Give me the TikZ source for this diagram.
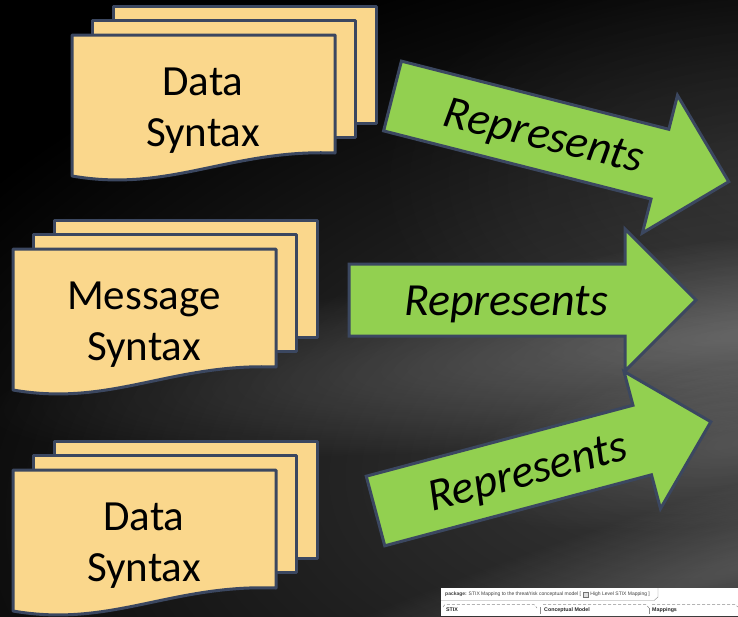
\documentclass[tikz,border=0pt]{standalone}
\usepackage{fontspec}
\setmainfont{Carlito}
\newfontfamily\uifont{Liberation Sans}
\definecolor{edge}{RGB}{59,71,96}
\definecolor{paper}{RGB}{250,215,140}
\definecolor{leaf}{RGB}{146,208,80}
\tikzset{
  docpage/.style={draw=edge, fill=paper, line width=3pt, line join=round},
  doctext/.style={align=center, font=\fontsize{43}{51}\selectfont, text=black, inner sep=0pt},
  arrowbody/.style={draw=edge, fill=leaf, line width=3pt, line join=miter},
  arrowtext/.style={font=\itshape\fontsize{46}{50}\selectfont, text=black, anchor=base, inner sep=0pt},
  uitext/.style={font=\uifont\fontsize{5}{6}\selectfont, text=black!75, inner sep=0pt, anchor=west},
  uilabel/.style={font=\uifont\bfseries\fontsize{5.3}{6}\selectfont, text=black!85, inner sep=0pt, anchor=west},
  pkgline/.style={draw=black!45, line width=0.5pt, dash pattern=on 3pt off 2pt},
}
% stack of three pages, the front one with a wavy lower edge
\newcommand{\docstack}[4]{%
  \begin{scope}[shift={(#2,#3)}]
    \draw[docpage] (41,-29) rectangle ++(263,117);
    \draw[docpage] (20.5,-14.5) rectangle ++(263,117);
    \draw[docpage] (0,0) -- (263,0) -- (263,118)
      .. controls (158,114) and (98,158) .. (0,141) -- cycle;
    \node[doctext] (#1) at (131,76) {#4};
  \end{scope}}
% block arrow, tail centre at (#2,#3), turned by #4 degrees
\newcommand{\bigarrow}[5]{%
  \begin{scope}[shift={(#2,#3)}, rotate=#4]
    \draw[arrowbody] (0,-36) -- (276,-36) -- (276,-71) -- (347,0)
      -- (276,71) -- (276,36) -- (0,36) -- cycle;
    \node[arrowtext, rotate=#5] (#1) at (157,15) {Represents};
  \end{scope}}
% soft light patch: radial shading screened onto the dark backdrop
% (centre x, centre y, reach x, reach y, angle, peak brightness in percent)
\newcommand{\glow}[6]{%
  \begin{scope}[transform canvas={shift={(#1,#2)}, rotate=#5}, blend mode=screen]
    \shade[inner color=white!#6!black, outer color=black]
      (0,0) ellipse ({2*#3} and {2*#4});
  \end{scope}}

\begin{document}
\begin{tikzpicture}[x=1pt, y=-1pt]
  % backdrop
  \fill[black] (0,0) rectangle (738,616);
  \useasboundingbox (0,0) rectangle (738,616);
  \begin{scope}
    \clip (0,0) rectangle (738,616);
    \glow{720}{430}{480}{260}{10}{23}
    \glow{780}{180}{200}{110}{0}{8}
    \glow{780}{330}{400}{48}{6}{24}
    \glow{760}{440}{160}{40}{8}{14}
    \glow{760}{560}{320}{40}{17}{18}
  \end{scope}

  % document stacks
  \docstack{dataA}{72}{35}{Data\\Syntax}
  \docstack{message}{13}{249}{Message\\Syntax}
  \docstack{dataB}{13}{470}{Data\\Syntax}

  % arrows
  \bigarrow{repA}{392.5}{96}{-14.3}{-13.3}
  \bigarrow{repB}{349}{300}{0}{0}
  \bigarrow{repC}{375.5}{511}{14.9}{14.9}

  % small model view in the corner
  \fill[white] (441,588) rectangle (738,616);
  \node[uitext] (hdrA) at (445,594.5) {\textbf{package:} STIX Mapping to the threat/risk conceptual model [};
  \draw[black!55, line width=0.4pt, fill=black!12] ([xshift=1.5pt, yshift=2.5pt]hdrA.east) rectangle ++(5,5);
  \node[uitext] (hdrB) at ([xshift=9pt]hdrA.east) {High Level STIX Mapping ]};
  \draw[black!45, line width=0.4pt] (441,600.5) -- (654,600.5) -- (658,597) -- (658,588);
  \draw[pkgline] (443,607) -- (445,604.5) -- (534,604.5) -- (537,608);
  \draw[pkgline] (543,604.5) -- (646,604.5) -- (649,608);
  \draw[pkgline] (652,604.5) -- (735,604.5) -- (738,607);
  \draw[black!45, line width=0.5pt] (540,607) -- (540,614);
  \draw[black!45, line width=0.5pt] (649,608) -- (649,614);
  \node[uilabel] (pkgA) at (446,610) {STIX};
  \node[uilabel] (pkgB) at (544,610) {Conceptual Model};
  \node[uilabel] (pkgC) at (652,610) {Mappings};
\end{tikzpicture}
\end{document}
